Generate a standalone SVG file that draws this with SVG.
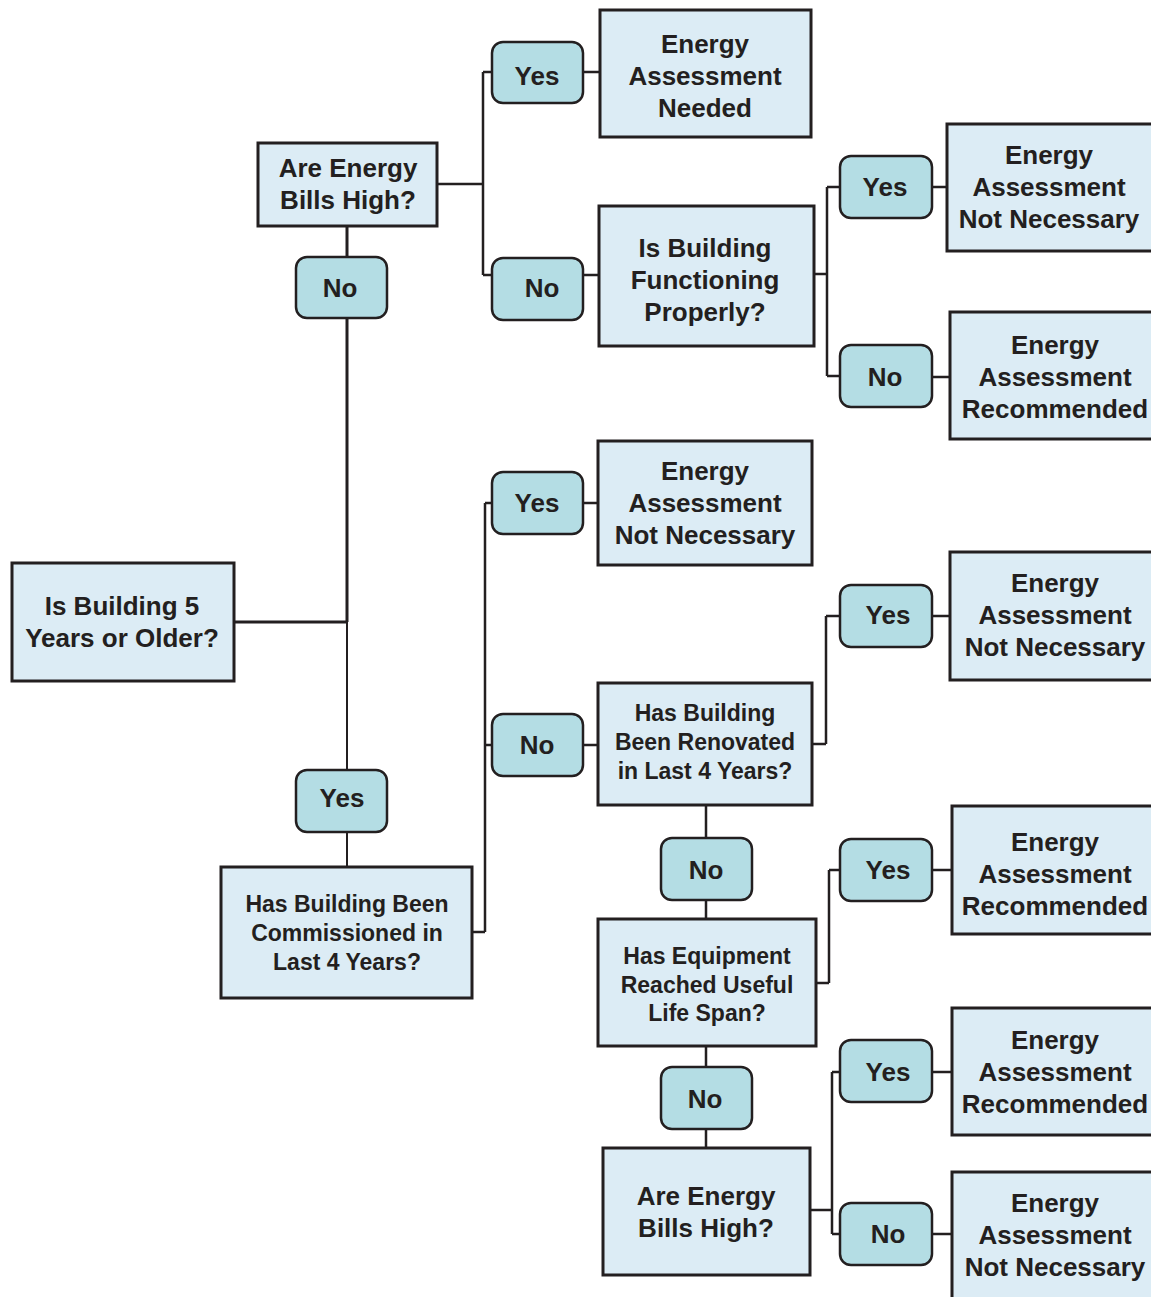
<svg xmlns="http://www.w3.org/2000/svg" width="1151" height="1297" viewBox="0 0 1151 1297">
<style>
.box{fill:#dcecf5;stroke:#231f20;stroke-width:3}
.pill{fill:#b4dde4;stroke:#231f20;stroke-width:2.5}
.t{font-family:"Liberation Sans",Arial,sans-serif;font-weight:bold;font-size:26px;fill:#231f20;text-anchor:middle}
.s{font-size:23px}
.c{fill:none;stroke:#231f20;stroke-width:2.5}
</style>
<rect width="1151" height="1297" fill="#ffffff"/>
<g id="connectors">
<path class="c" d="M437,184H483M483,72V275M483,72H492M483,275H492M583,72H600M583,275H599"/>
<path class="c" d="M814,274H827M827,187V376M827,187H840M827,376H840M932,187H947M932,377H950"/>
<path class="c" style="stroke-width:3" d="M347,226V257M347,318V622M234,622H347"/>
<path class="c" style="stroke-width:2" d="M347,622V770M347,832V867"/>
<path class="c" d="M472,932H485M485,503V932M485,503H492M485,745H492M583,503H598M583,745H598"/>
<path class="c" d="M812,744H826M826,616V744M826,616H840M932,616H950"/>
<path class="c" d="M706,805V838M706,900V919M706,1046V1067M706,1129V1148"/>
<path class="c" d="M816,983H829M829,870V983M829,870H840M932,870H952"/>
<path class="c" d="M810,1210H832M832,1072V1234M832,1072H840M832,1234H840M932,1072H952M932,1234H952"/>
</g>
<g id="q1"><rect class="box" x="258" y="143" width="179" height="83"/><text class="t" x="348" y="177">Are Energy</text><text class="t" x="348" y="209">Bills High?</text></g>
<g id="p1"><rect class="pill" x="492" y="42" width="91" height="61" rx="11"/><text class="t" x="537" y="85">Yes</text></g>
<g id="r1"><rect class="box" x="600" y="10" width="211" height="127"/><text class="t" x="705" y="53">Energy</text><text class="t" x="705" y="85">Assessment</text><text class="t" x="705" y="117">Needed</text></g>
<g id="p2"><rect class="pill" x="492" y="258" width="91" height="62" rx="11"/><text class="t" x="542" y="297">No</text></g>
<g id="q2"><rect class="box" x="599" y="206" width="215" height="140"/><text class="t" x="705" y="257">Is Building</text><text class="t" x="705" y="289">Functioning</text><text class="t" x="705" y="321">Properly?</text></g>
<g id="p3"><rect class="pill" x="840" y="156" width="92" height="62" rx="11"/><text class="t" x="885" y="196">Yes</text></g>
<g id="r2"><rect class="box" x="947" y="124" width="215" height="127"/><text class="t" x="1049" y="164">Energy</text><text class="t" x="1049" y="196">Assessment</text><text class="t" x="1049" y="228">Not Necessary</text></g>
<g id="p4"><rect class="pill" x="840" y="345" width="92" height="62" rx="11"/><text class="t" x="885" y="386">No</text></g>
<g id="r3"><rect class="box" x="950" y="312" width="215" height="127"/><text class="t" x="1055" y="354">Energy</text><text class="t" x="1055" y="386">Assessment</text><text class="t" x="1055" y="418">Recommended</text></g>
<g id="p5"><rect class="pill" x="296" y="257" width="91" height="61" rx="11"/><text class="t" x="340" y="297">No</text></g>
<g id="q0"><rect class="box" x="12" y="563" width="222" height="118"/><text class="t" x="122" y="615">Is Building 5</text><text class="t" x="122" y="647">Years or Older?</text></g>
<g id="p6"><rect class="pill" x="296" y="770" width="91" height="62" rx="11"/><text class="t" x="342" y="807">Yes</text></g>
<g id="q3"><rect class="box" x="221" y="867" width="251" height="131"/><text class="t s" x="347" y="912">Has Building Been</text><text class="t s" x="347" y="941">Commissioned in</text><text class="t s" x="347" y="970">Last 4 Years?</text></g>
<g id="p7"><rect class="pill" x="492" y="472" width="91" height="62" rx="11"/><text class="t" x="537" y="512">Yes</text></g>
<g id="r4"><rect class="box" x="598" y="441" width="214" height="124"/><text class="t" x="705" y="480">Energy</text><text class="t" x="705" y="512">Assessment</text><text class="t" x="705" y="544">Not Necessary</text></g>
<g id="p8"><rect class="pill" x="492" y="714" width="91" height="62" rx="11"/><text class="t" x="537" y="754">No</text></g>
<g id="q4"><rect class="box" x="598" y="683" width="214" height="122"/><text class="t s" x="705" y="721">Has Building</text><text class="t s" x="705" y="750">Been Renovated</text><text class="t s" x="705" y="779">in Last 4 Years?</text></g>
<g id="p9"><rect class="pill" x="840" y="585" width="92" height="62" rx="11"/><text class="t" x="888" y="624">Yes</text></g>
<g id="r5"><rect class="box" x="950" y="552" width="215" height="128"/><text class="t" x="1055" y="592">Energy</text><text class="t" x="1055" y="624">Assessment</text><text class="t" x="1055" y="656">Not Necessary</text></g>
<g id="p10"><rect class="pill" x="661" y="838" width="91" height="62" rx="11"/><text class="t" x="706" y="879">No</text></g>
<g id="q5"><rect class="box" x="598" y="919" width="218" height="127"/><text class="t s" x="707" y="964">Has Equipment</text><text class="t s" x="707" y="993">Reached Useful</text><text class="t s" x="707" y="1021">Life Span?</text></g>
<g id="p11"><rect class="pill" x="840" y="839" width="92" height="62" rx="11"/><text class="t" x="888" y="879">Yes</text></g>
<g id="r6"><rect class="box" x="952" y="806" width="215" height="128"/><text class="t" x="1055" y="851">Energy</text><text class="t" x="1055" y="883">Assessment</text><text class="t" x="1055" y="915">Recommended</text></g>
<g id="p12"><rect class="pill" x="661" y="1067" width="91" height="62" rx="11"/><text class="t" x="705" y="1108">No</text></g>
<g id="q6"><rect class="box" x="603" y="1148" width="207" height="127"/><text class="t" x="706" y="1205">Are Energy</text><text class="t" x="706" y="1237">Bills High?</text></g>
<g id="p13"><rect class="pill" x="840" y="1040" width="92" height="62" rx="11"/><text class="t" x="888" y="1081">Yes</text></g>
<g id="r7"><rect class="box" x="952" y="1008" width="215" height="127"/><text class="t" x="1055" y="1049">Energy</text><text class="t" x="1055" y="1081">Assessment</text><text class="t" x="1055" y="1113">Recommended</text></g>
<g id="p14"><rect class="pill" x="840" y="1203" width="92" height="62" rx="11"/><text class="t" x="888" y="1243">No</text></g>
<g id="r8"><rect class="box" x="952" y="1172" width="215" height="135"/><text class="t" x="1055" y="1212">Energy</text><text class="t" x="1055" y="1244">Assessment</text><text class="t" x="1055" y="1276">Not Necessary</text></g>
</svg>
